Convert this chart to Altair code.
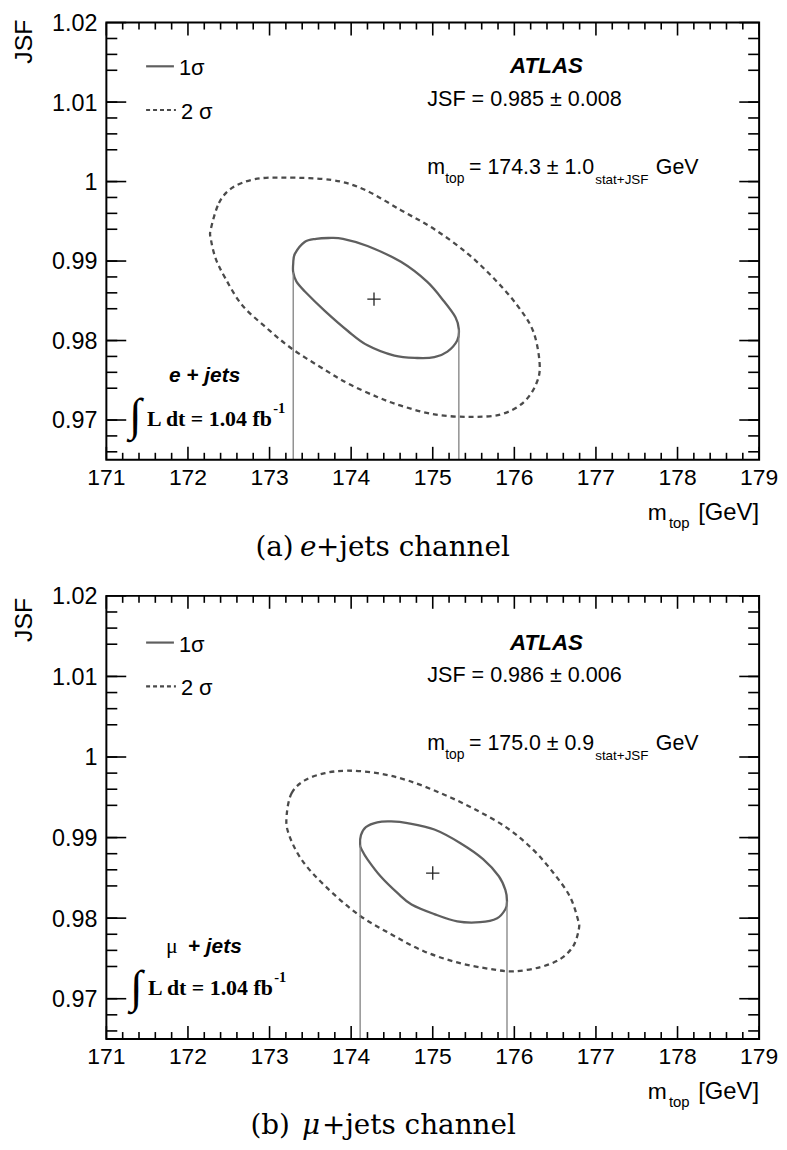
import altair as alt
import pandas as pd

# ------------------------------------------------------------------ data
X_DOMAIN = [171, 179]
Y_DOMAIN = [0.965, 1.02]
X_MAJOR = [171, 172, 173, 174, 175, 176, 177, 178, 179]
X_LABELS = ["171", "172", "173", "174", "175", "176", "177", "178", "179"]
Y_MAJOR = [0.97, 0.98, 0.99, 1.0, 1.01, 1.02]
Y_LABELS = ["0.97", "0.98", "0.99", "1", "1.01", "1.02"]
X_MINOR = [round(171 + 0.2 * i, 1) for i in range(41) if i % 5]
Y_MINOR = [round(0.966 + 0.002 * i, 3) for i in range(27) if (i + 2) % 5]

# (a) e+jets : 1 sigma contour
A_1S_X = [173.29, 173.29, 173.31, 173.43, 173.57, 173.72, 173.90, 174.20, 174.61, 174.93,
          175.14, 175.28, 175.32, 175.30, 175.18, 175.02, 174.81, 174.53, 174.20, 173.96,
          173.68, 173.43, 173.33]
A_1S_Y = [0.9886, 0.9897, 0.9909, 0.9924, 0.9928, 0.9929, 0.9928, 0.9919, 0.9899, 0.9874,
          0.9849, 0.9829, 0.9814, 0.9800, 0.9786, 0.9779, 0.9778, 0.9781, 0.9794, 0.9812,
          0.9837, 0.9862, 0.9874]
# (a) e+jets : 2 sigma contour
A_2S_X = [172.28, 172.38, 172.54, 172.82, 173.19, 173.76, 174.16, 174.61, 175.02, 175.42,
          175.75, 176.03, 176.23, 176.31, 176.27, 176.11, 175.83, 175.45, 175.02, 174.61,
          174.32, 173.96, 173.68, 173.27, 172.95, 172.66, 172.46, 172.34, 172.28]
A_2S_Y = [0.9940, 0.9973, 0.9992, 1.0003, 1.0005, 1.0002, 0.9990, 0.9964, 0.9940, 0.9910,
          0.9878, 0.9845, 0.9812, 0.9771, 0.9746, 0.9722, 0.9707, 0.9704, 0.9707, 0.9718,
          0.9729, 0.9746, 0.9763, 0.9790, 0.9817, 0.9845, 0.9878, 0.9903, 0.9928]
A_CENTER = (174.28, 0.9852)
A_VLINE_X = [173.29, 175.32]
A_VLINE_TOP = [0.9886, 0.9814]

# (b) mu+jets : 1 sigma contour
B_1S_X = [174.11, 174.12, 174.18, 174.32, 174.49, 174.69, 175.02, 175.34, 175.62, 175.81,
          175.89, 175.91, 175.89, 175.79, 175.58, 175.30, 175.02, 174.74, 174.57, 174.36,
          174.20, 174.13]
B_1S_Y = [0.9891, 0.9903, 0.9913, 0.9919, 0.9920, 0.9918, 0.9910, 0.9893, 0.9873, 0.9852,
          0.9835, 0.9821, 0.9811, 0.9800, 0.9795, 0.9796, 0.9805, 0.9817, 0.9831, 0.9852,
          0.9873, 0.9885]
# (b) mu+jets : 2 sigma contour
B_2S_X = [173.21, 173.27, 173.43, 173.68, 173.96, 174.32, 174.69, 175.10, 175.50, 175.91,
          176.23, 176.48, 176.68, 176.78, 176.79, 176.72, 176.56, 176.31, 175.99, 175.70,
          175.30, 174.89, 174.49, 174.08, 173.68, 173.39, 173.23]
B_2S_Y = [0.9928, 0.9955, 0.9971, 0.9980, 0.9983, 0.9980, 0.9971, 0.9955, 0.9936, 0.9912,
          0.9885, 0.9856, 0.9827, 0.9798, 0.9786, 0.9765, 0.9749, 0.9739, 0.9734, 0.9737,
          0.9745, 0.9759, 0.9780, 0.9805, 0.9840, 0.9873, 0.9906]
B_CENTER = (175.00, 0.9856)
B_VLINE_X = [174.11, 175.91]
B_VLINE_TOP = [0.9891, 0.9821]

# ------------------------------------------------------------------ layout
LEFT = 107          # page x of plot left edge
TOP_A = 18          # page y of panel (a) plot top
BOT_A = 458
TOP_B = 595
W = 657
H_A = BOT_A - TOP_A
H_B = 446

C_SOLID = "#5f5f5f"
C_DASH = "#4a4a4a"
C_VLINE = "#808080"
SANS = "Liberation Sans"
SERIF = "Liberation Serif"
CAP = "DejaVu Serif"

ONE = pd.DataFrame({"k": [0]})


def txt(s, px, py, top, size, font=SANS, align="left", weight="normal",
        style="normal", angle=0, baseline="alphabetic"):
    return alt.Chart(ONE).mark_text(
        text=s, align=align, baseline=baseline, fontSize=size, font=font,
        fontWeight=weight, fontStyle=style, angle=angle, color="black"
    ).encode(x=alt.value(px - LEFT), y=alt.value(py - top))


def seg(px0, px1, py, top, color, dash=None):
    kw = dict(color=color, strokeWidth=2.2)
    if dash:
        kw["strokeDash"] = dash
    return alt.Chart(ONE).mark_rule(**kw).encode(
        x=alt.value(px0 - LEFT), x2=alt.value(px1 - LEFT), y=alt.value(py - top))


def build_panel(H, top, c1x, c1y, c2x, c2y, center, vx, vtop, texts):
    xs = alt.Scale(domain=X_DOMAIN, nice=False, zero=False)
    ys = alt.Scale(domain=Y_DOMAIN, nice=False, zero=False)

    d2 = pd.DataFrame({"x": c2x, "y": c2y, "i": list(range(len(c2x)))})
    d1 = pd.DataFrame({"x": c1x, "y": c1y, "i": list(range(len(c1x)))})

    sig2 = alt.Chart(d2).mark_line(
        interpolate="cardinal-closed", color=C_DASH, strokeWidth=2.3, strokeDash=[5, 4]
    ).encode(x=alt.X("x:Q", scale=xs, axis=None), y=alt.Y("y:Q", scale=ys, axis=None),
             order=alt.Order("i:Q"))
    sig1 = alt.Chart(d1).mark_line(
        interpolate="cardinal-closed", color=C_SOLID, strokeWidth=2.3
    ).encode(x=alt.X("x:Q", scale=xs, axis=None), y=alt.Y("y:Q", scale=ys, axis=None),
             order=alt.Order("i:Q"))

    dv = pd.DataFrame({"x": vx, "y0": [Y_DOMAIN[0]] * len(vx), "y1": vtop})
    vl = alt.Chart(dv).mark_rule(color=C_VLINE, strokeWidth=1.3).encode(
        x=alt.X("x:Q", scale=xs, axis=None), y=alt.Y("y0:Q", scale=ys, axis=None),
        y2="y1:Q")

    dc = pd.DataFrame({"x": [center[0]], "y": [center[1]]})
    cen = alt.Chart(dc).mark_point(
        shape="M-1,0L1,0M0,-1L0,1", size=180, filled=False, color="#222222",
        strokeWidth=1.3, opacity=1
    ).encode(x=alt.X("x:Q", scale=xs, axis=None), y=alt.Y("y:Q", scale=ys, axis=None))

    def xt(vals, L, at_top):
        y0, y1 = (0, L) if at_top else (H, H - L)
        return alt.Chart(pd.DataFrame({"v": vals})).mark_rule(
            color="black", strokeWidth=1.6).encode(
            x=alt.X("v:Q", scale=xs, axis=None), y=alt.value(y0), y2=alt.value(y1))

    def yt(vals, L, at_right):
        x0, x1 = (W - L, W) if at_right else (0, L)
        return alt.Chart(pd.DataFrame({"v": vals})).mark_rule(
            color="black", strokeWidth=1.6).encode(
            y=alt.Y("v:Q", scale=ys, axis=None), x=alt.value(x0), x2=alt.value(x1))

    ticks = [xt(X_MAJOR, 13, False), xt(X_MINOR, 7, False),
             xt(X_MAJOR, 13, True), xt(X_MINOR, 7, True),
             yt(Y_MAJOR, 20, False), yt(Y_MINOR, 11, False),
             yt(Y_MAJOR, 20, True), yt(Y_MINOR, 11, True)]

    xlab = alt.Chart(pd.DataFrame({"v": X_MAJOR, "t": X_LABELS})).mark_text(
        align="center", baseline="top", fontSize=23, font=SANS, color="black"
    ).encode(x=alt.X("v:Q", scale=xs, axis=None), y=alt.value(H + 7), text="t:N")
    ylab = alt.Chart(pd.DataFrame({"v": Y_MAJOR, "t": Y_LABELS})).mark_text(
        align="right", baseline="middle", fontSize=23.5, font=SANS, color="black", dy=1.5
    ).encode(y=alt.Y("v:Q", scale=ys, axis=None), x=alt.value(-9), text="t:N")

    frame = alt.Chart(ONE).mark_rect(
        fill="white", fillOpacity=0, stroke="black", strokeWidth=2
    ).encode(x=alt.value(0), x2=alt.value(W), y=alt.value(0), y2=alt.value(H))

    return alt.layer(sig2, sig1, vl, cen, *ticks, frame, xlab, ylab, *texts).properties(
        width=W, height=H)


def common_texts(top, off, axoff, jsf_txt, mtop_txt):
    t = []
    # y axis title
    t.append(txt("JSF", LEFT - 95, 15 + axoff, top, 25, align="right", angle=270,
                 baseline="top"))
    # legend
    t.append(seg(147, 175, 62 + off, top, C_SOLID))
    t.append(seg(147, 177, 106 + off, top, C_DASH, dash=[4, 3]))
    t.append(txt("1σ", 180, 71 + off, top, 22))
    t.append(txt("2 σ", 182, 115 + off, top, 22))
    # ATLAS + results
    t.append(txt("ATLAS", 550, 69 + off, top, 22.5, align="center", weight="bold",
                 style="italic"))
    t.append(txt(jsf_txt, 430, 101.5 + off, top, 21.7))
    t.append(txt("m", 430, 170 + off, top, 21.5))
    t.append(txt("top", 448, 179 + off, top, 14))
    t.append(txt(mtop_txt, 472, 170 + off, top, 21.5))
    t.append(txt("stat+JSF", 599, 180 + off, top, 13.5))
    t.append(txt("GeV", 660, 170 + off, top, 21.5))
    # x axis title
    t.append(txt("[GeV]", 764, 519 + axoff, top, 24, align="right"))
    t.append(txt("top", 694, 527 + axoff, top, 15, align="right"))
    t.append(txt("m", 671, 519 + axoff, top, 23, align="right"))
    return t


texts_a = common_texts(TOP_A, 0, 0, "JSF = 0.985 ± 0.008", "= 174.3 ± 1.0")
texts_a += [
    txt("e + jets", 170, 380, TOP_A, 21, weight="bold", style="italic"),
    txt("∫", 136, 428, TOP_A, 46, font=SERIF, align="center"),
    txt("L dt = 1.04 fb", 148, 424, TOP_A, 22, font=SERIF, weight="bold"),
    txt("-1", 275, 411, TOP_A, 14.5, font=SERIF, weight="bold"),
    txt("(a)", 257, 555, TOP_A, 28, font=CAP),
    txt("e", 302, 555, TOP_A, 28, font=CAP, style="italic"),
    txt("+jets channel", 318, 555, TOP_A, 28, font=CAP),
]

texts_b = common_texts(TOP_B, 580, 582, "JSF = 0.986 ± 0.006", "= 175.0 ± 0.9")
texts_b += [
    txt("μ", 167, 954, TOP_B, 22, font=SERIF),
    txt("+ jets", 189, 954, TOP_B, 21, weight="bold", style="italic"),
    txt("∫", 137, 1004, TOP_B, 46, font=SERIF, align="center"),
    txt("L dt = 1.04 fb", 149, 997, TOP_B, 22, font=SERIF, weight="bold"),
    txt("-1", 276, 984, TOP_B, 14.5, font=SERIF, weight="bold"),
    txt("(b)", 252, 1137, TOP_B, 28, font=CAP),
    txt("μ", 304, 1137, TOP_B, 28, font=CAP, style="italic"),
    txt("+jets channel", 324, 1137, TOP_B, 28, font=CAP),
]

panel_a = build_panel(H_A, TOP_A, A_1S_X, A_1S_Y, A_2S_X, A_2S_Y, A_CENTER,
                      A_VLINE_X, A_VLINE_TOP, texts_a)
panel_b = build_panel(H_B, TOP_B, B_1S_X, B_1S_Y, B_2S_X, B_2S_Y, B_CENTER,
                      B_VLINE_X, B_VLINE_TOP, texts_b)

chart = alt.vconcat(
    panel_a, panel_b, spacing=TOP_B - BOT_A, bounds="flush",
    padding={"left": 4, "top": 0, "right": 0, "bottom": 0}, background="white"
).configure_view(stroke=None)

chart.save("out.html", embed_options={"renderer": "svg", "actions": False})
